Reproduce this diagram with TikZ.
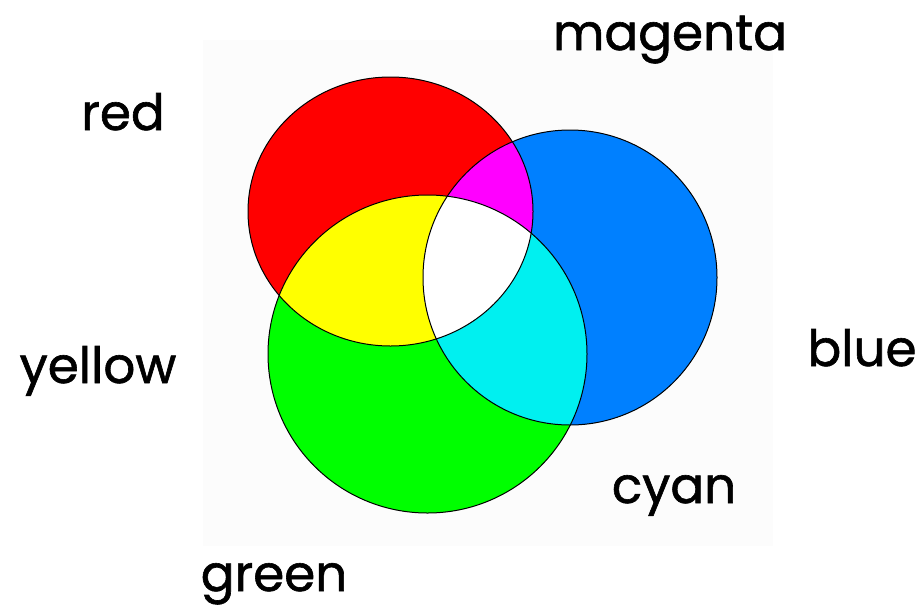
\documentclass[tikz,border=0pt]{standalone}
\usepackage{fontspec}
\setmainfont{Poppins}
\newfontfamily\lblfont{Poppins}[FakeBold=1.2]
\definecolor{cred}{RGB}{255,0,0}
\definecolor{cgreen}{RGB}{0,255,0}
\definecolor{cblue}{RGB}{0,128,255}
\definecolor{cyellow}{RGB}{255,255,0}
\definecolor{cmagenta}{RGB}{255,0,255}
\definecolor{ccyan}{RGB}{0,240,240}
\definecolor{bgpanel}{RGB}{252,252,252}
\begin{document}
\begin{tikzpicture}[x=1pt,y=-1pt,
  lbl/.style={anchor=base,inner sep=0pt,font=\lblfont\fontsize{50}{56}\selectfont},
  edge/.style={draw=black,line width=1pt}]
\useasboundingbox (0,0) rectangle (923,611);
\fill[bgpanel] (203,40) rectangle (773,546);
% base circles
\def\redpath{(390.5,211.5) ellipse [x radius=142.5,y radius=134.5]}
\def\greenpath{(427.5,354) ellipse [x radius=159.5,y radius=159]}
\def\bluepath{(570,277.5) ellipse [x radius=147,y radius=147.5]}
\fill[cred] \redpath;
\fill[cgreen] \greenpath;
\fill[cblue] \bluepath;
\begin{scope}
  \clip \redpath;
  \fill[cyellow] \greenpath;
  \fill[cmagenta] \bluepath;
\end{scope}
\begin{scope}
  \clip \greenpath;
  \fill[ccyan] \bluepath;
\end{scope}
\begin{scope}
  \clip \redpath;
  \clip \greenpath;
  \fill[white] \bluepath;
\end{scope}
\draw[edge] \redpath;
\draw[edge] \greenpath;
\draw[edge] \bluepath;
% labels
\node[lbl] (magenta) at (670,50) {magenta};
\node[lbl] (red) at (123,130) {red};
\node[lbl] (yellow) at (98,383) {yellow};
\node[lbl] (blue) at (862,366) {blue};
\node[lbl] (cyan) at (674,503) {cyan};
\node[lbl] (green) at (274,591) {green};
\end{tikzpicture}
\end{document}
